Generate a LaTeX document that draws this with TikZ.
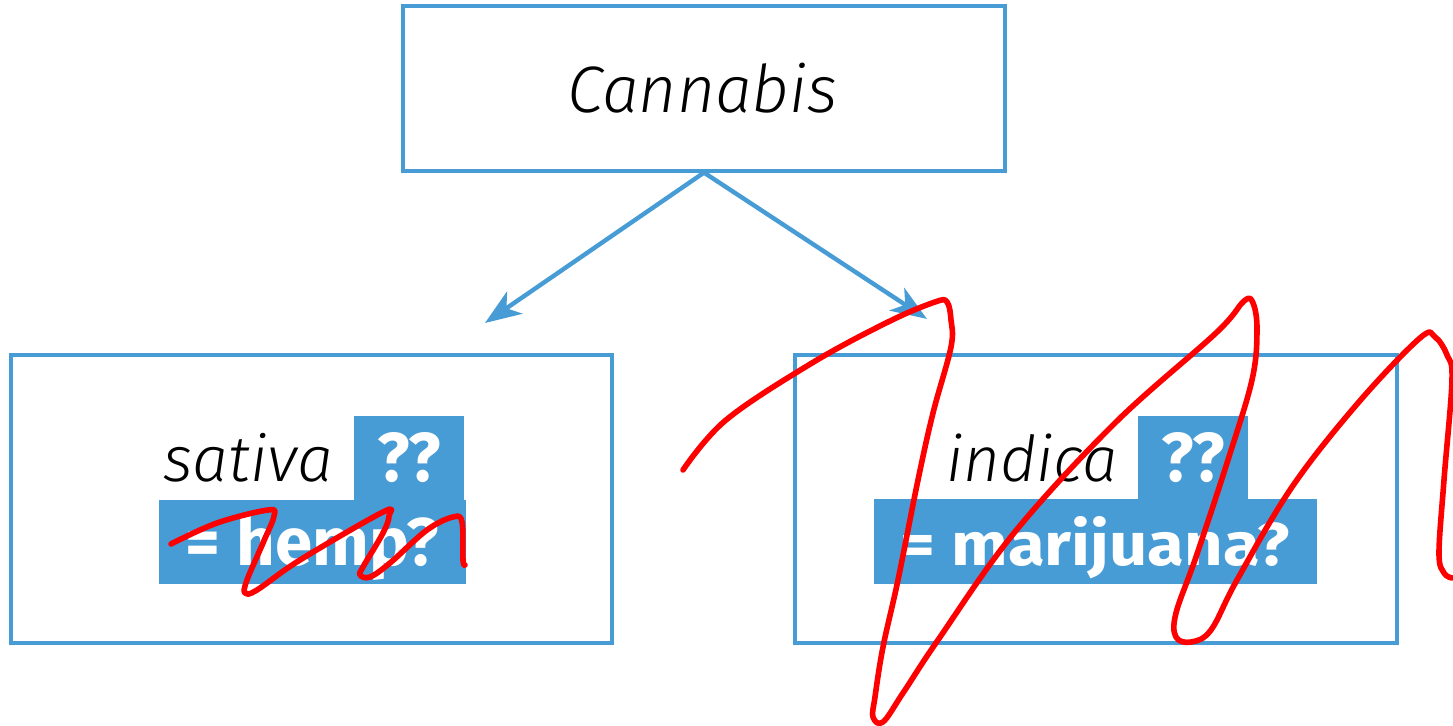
\documentclass[tikz,border=0pt]{standalone}
\usepackage{fontspec}
\usepackage{graphicx}
\usetikzlibrary{arrows.meta}
\newfontfamily\lightit{Fira Sans Light Italic}
\newfontfamily\boldsans{Fira Sans Bold}
\definecolor{myblue}{RGB}{72,156,214}
\definecolor{scribred}{RGB}{255,0,0}
\begin{document}
\begin{tikzpicture}[x=0.5pt,y=-0.5pt,
  frame/.style={draw=myblue, line width=1.6pt, inner sep=0pt},
  lbl/.style={inner sep=0pt, anchor=base west, text=black},
  qbox/.style={fill=myblue, text=white, inner sep=0pt, text depth=0pt, text height=24pt},
  conn/.style={draw=myblue, line width=2.2pt, -{Stealth[length=18pt,width=13.5pt,inset=5pt]}},
  scrib/.style={draw=scribred, line width=2.8pt, line cap=round, line join=round}]
\useasboundingbox (0,0) rectangle (1453,726);
% boxes
\node[frame, minimum width=301pt, minimum height=82.5pt] (top) at (704,88.5) {};
\node[frame, minimum width=300.5pt, minimum height=144pt] (left) at (311.5,499) {};
\node[frame, minimum width=301pt, minimum height=144pt] (right) at (1096,499) {};
% texts
\node[lbl] (cann) at (567,112.5) {\resizebox{135pt}{!}{\lightit Cannabis}};
\node[lbl] (sat) at (163,482) {\resizebox{85pt}{!}{\lightit sativa}};
\node[lbl] (ind) at (946,482) {\resizebox{85.5pt}{!}{\lightit indica}};
% blue label boxes
\node[qbox, minimum width=55pt, minimum height=42pt] (sq) at (409,458) {\resizebox{31.5pt}{24.5pt}{\boldsans ??}};
\node[qbox, minimum width=153.5pt, minimum height=42pt] (hemp) at (312.5,542) {\resizebox{126.5pt}{25.5pt}{\boldsans = hemp?}};
\node[qbox, minimum width=55pt, minimum height=41.5pt] (iq) at (1193,457.5) {\resizebox{31.5pt}{24.5pt}{\boldsans ??}};
\node[qbox, minimum width=221.5pt, minimum height=42.5pt] (mari) at (1095.5,541.5) {\resizebox{194.5pt}{24.5pt}{\boldsans = marijuana?}};
% arrows
\coordinate (tipL) at (485,323);
\coordinate (tipR) at (927,319);
\draw[conn] (top.south) -- (tipL);
\draw[conn] (top.south) -- (tipR);
% scribbles
\draw[scrib] plot[smooth, tension=0.6] coordinates {(171,544) (217,523) (268,510) (274,516) (263,543) (247,580) (245,593) (257,590) (300,560) (383,512) (389,516) (383,533) (363,567) (360,575) (370,577) (390,563) (427,530) (453,517) (462,522) (463,560) (465,565)};
\draw[scrib] plot[smooth, tension=0.6] coordinates {(683,470) (726,420) (812,363) (888,322) (935,302) (947,302) (951,320) (951,347) (933,413) (918,480) (898,580) (883,647) (875,697) (873,717) (883,722) (903,693) (938,640) (1014,533) (1115,423) (1216,333) (1244,301) (1253,303) (1257,330) (1252,380) (1227,463) (1196,557) (1176,613) (1176,637) (1191,642) (1211,630) (1237,580) (1292,487) (1358,403) (1420,338) (1435,337) (1447,355) (1452,380) (1444,480) (1439,553) (1444,573) (1452,578)};
\end{tikzpicture}
\end{document}
